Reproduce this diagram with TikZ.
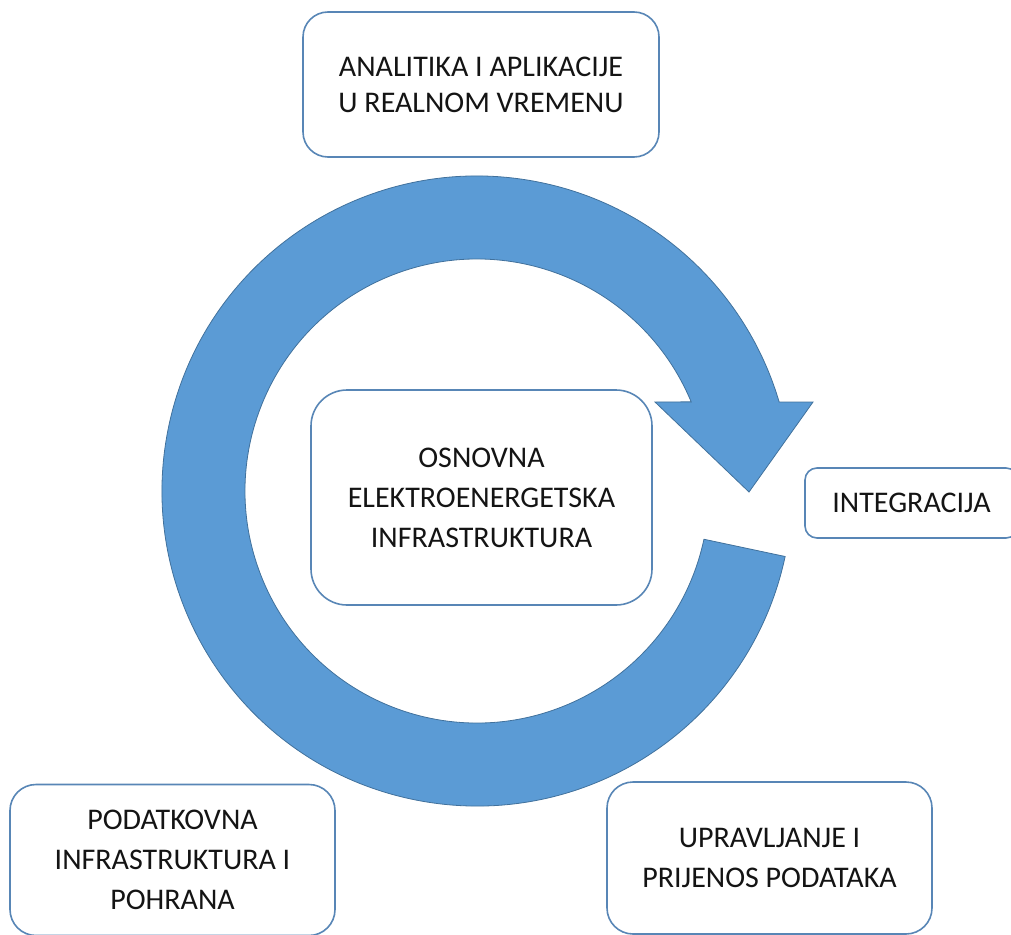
\documentclass[tikz,border=0pt]{standalone}
\usepackage{fontspec}
\setmainfont{Carlito}
\definecolor{arrowfill}{RGB}{91,155,213}
\definecolor{arrowedge}{RGB}{65,113,156}
\definecolor{boxedge}{RGB}{88,134,182}
\definecolor{txt}{RGB}{20,20,20}
\begin{document}
\begin{tikzpicture}[x=1pt,y=1pt,
  box/.style={draw=boxedge, line width=1.6pt, fill=white, align=center, text=txt, inner sep=0pt},
  txtA/.style={font=\fontsize{30}{36}\selectfont},
  txtB/.style={font=\fontsize{30}{40}\selectfont}]
\useasboundingbox (0,0) rectangle (1011,-934);
\coordinate (C) at (477,-491);
\coordinate (hr) at (813,-402);
\coordinate (ht) at (749,-492);
\coordinate (hl) at (655,-402);
\filldraw[fill=arrowfill, draw=arrowedge, line width=0.8pt]
  ([shift={(-12:315)}]C) arc[start angle=-12, end angle=-343.6, radius=315]
  -- (hr) -- (ht) -- (hl)
  -- ([shift={(22.6:232)}]C) arc[start angle=-337.4, end angle=-12, radius=232] -- cycle;
\node[box, txtA, rounded corners=25pt, minimum width=356pt, minimum height=145pt] (top) at (481,-84.5)
  {ANALITIKA I APLIKACIJE\\U REALNOM VREMENU};
\node[box, txtB, rounded corners=36pt, minimum width=341pt, minimum height=215pt] (mid) at (481.5,-497.5)
  {OSNOVNA\\ELEKTROENERGETSKA\\INFRASTRUKTURA};
\node[box, txtA, rounded corners=12pt, minimum width=213pt, minimum height=70pt] (int) at (911.5,-503)
  {INTEGRACIJA};
\node[box, txtB, rounded corners=26pt, minimum width=325pt, minimum height=151pt] (bl) at (172.5,-860)
  {PODATKOVNA\\INFRASTRUKTURA I\\POHRANA};
\node[box, txtB, rounded corners=26pt, minimum width=325pt, minimum height=152pt] (br) at (769.5,-858)
  {UPRAVLJANJE I\\PRIJENOS PODATAKA};
\end{tikzpicture}
\end{document}
